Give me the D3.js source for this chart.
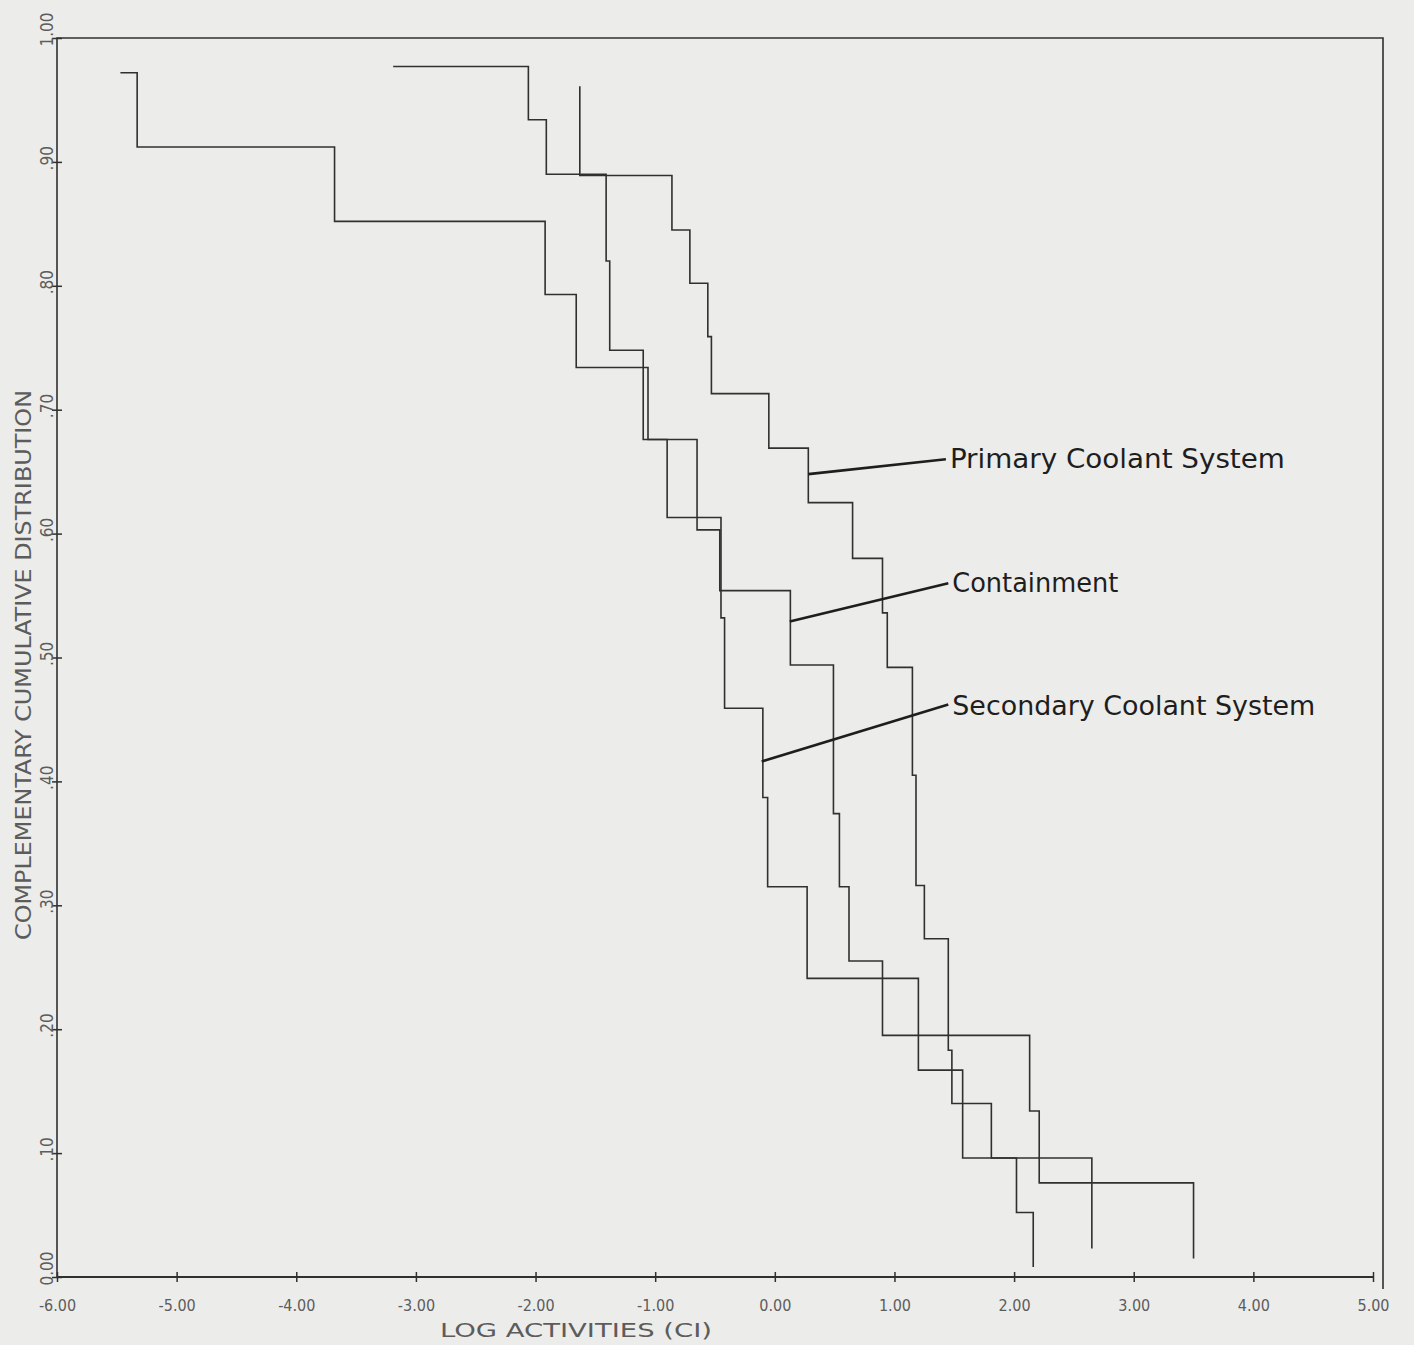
<!DOCTYPE html>
<html>
<head>
<meta charset="utf-8">
<script src="https://cdn.jsdelivr.net/npm/d3@7"></script>
<style>
  html, body { margin: 0; padding: 0; background: #ececea; }
  svg { display: block; }
  text { font-family: 'DejaVu Sans Condensed', 'DejaVu Sans', sans-serif; }
</style>
</head>
<body>
<svg id="main_chart" width="1414" height="1345"></svg>
<script>
// step points: at each x the curve drops to the matching y
const secondary_x = [-5.47, -5.33, -3.68, -1.92, -1.66, -1.06, -0.90, -0.45, -0.42, -0.10, -0.06, 0.27, 1.20, 1.57, 2.02, 2.16];
const secondary_y = [0.972, 0.912, 0.852, 0.793, 0.734, 0.676, 0.613, 0.532, 0.459, 0.387, 0.315, 0.241, 0.167, 0.096, 0.052, 0.008];

const containment_x = [-3.19, -2.06, -1.91, -1.41, -1.38, -1.10, -0.65, -0.46, 0.13, 0.49, 0.54, 0.62, 0.90, 2.13, 2.21, 3.50];
const containment_y = [0.977, 0.934, 0.890, 0.820, 0.748, 0.676, 0.603, 0.554, 0.494, 0.374, 0.315, 0.255, 0.195, 0.134, 0.076, 0.015];

const primary_x = [-1.63, -1.63, -0.86, -0.71, -0.56, -0.53, -0.05, 0.28, 0.65, 0.90, 0.94, 1.15, 1.18, 1.25, 1.45, 1.48, 1.81, 2.65];
const primary_y = [0.961, 0.889, 0.845, 0.802, 0.759, 0.713, 0.669, 0.625, 0.580, 0.536, 0.492, 0.405, 0.316, 0.273, 0.183, 0.140, 0.096, 0.023];

const x_ticks = [-6, -5, -4, -3, -2, -1, 0, 1, 2, 3, 4, 5];
const x_tick_labels = ['-6.00', '-5.00', '-4.00', '-3.00', '-2.00', '-1.00', '0.00', '1.00', '2.00', '3.00', '4.00', '5.00'];
const y_ticks = [0, 0.1, 0.2, 0.3, 0.4, 0.5, 0.6, 0.7, 0.8, 0.9, 1];
const y_tick_labels = ['0.00', '.10', '.20', '.30', '.40', '.50', '.60', '.70', '.80', '.90', '1.00'];

const series_names = ['Primary Coolant System', 'Containment', 'Secondary Coolant System'];

(function() {
  const svg = d3.select('#main_chart');
  const xScale = d3.scaleLinear().domain([-6, 5]).range([57, 1373]);
  const yScale = d3.scaleLinear().domain([0, 1]).range([1277, 38]);
  const ink = '#303030';
  const faint = '#5c5c5c';

  // frame
  svg.append('path')
    .attr('d', 'M' + xScale(-6) + ',' + yScale(0) + 'V' + yScale(1) + 'H' + (xScale(5) + 10) + 'V' + (yScale(0) + 12))
    .attr('fill', 'none').attr('stroke', ink).attr('stroke-width', 1.6);

  const x_axis = svg.append('g').attr('transform', 'translate(0,' + yScale(0) + ')')
    .call(d3.axisBottom(xScale).tickValues(x_ticks).tickSize(5).tickPadding(18).tickFormat(function(d, i) {
      return x_tick_labels[i];
    }));
  x_axis.select('.domain').attr('stroke', ink).attr('stroke-width', 1.8).attr('d', 'M' + xScale(-6) + ',0H' + xScale(5));
  x_axis.selectAll('.tick line').attr('y1', -5).attr('y2', 5).attr('stroke', ink).attr('stroke-width', 1.5);
  x_axis.selectAll('.tick text').attr('fill', faint).style('font-size', '16px').style('font-family', "'DejaVu Sans Condensed', sans-serif");

  const y_axis = svg.append('g').attr('transform', 'translate(' + xScale(-6) + ',0)')
    .call(d3.axisLeft(yScale).tickValues(y_ticks).tickSize(5).tickFormat(function(d, i) {
      return y_tick_labels[i];
    }));
  y_axis.select('.domain').remove();
  y_axis.selectAll('.tick line').attr('x1', -5).attr('x2', 5).attr('stroke', ink).attr('stroke-width', 1.5);
  y_axis.selectAll('.tick text')
    .attr('x', 0).attr('dy', null).attr('text-anchor', 'start')
    .attr('transform', 'translate(-4,8) rotate(-90)')
    .attr('fill', faint).style('font-size', '17px');

  svg.append('text').text('LOG ACTIVITIES (CI)')
    .attr('x', 576).attr('y', 1337).attr('text-anchor', 'middle')
    .attr('textLength', 272).attr('lengthAdjust', 'spacingAndGlyphs')
    .attr('fill', faint).style('font-size', '20px');

  svg.append('text').text('COMPLEMENTARY CUMULATIVE DISTRIBUTION')
    .attr('transform', 'translate(31,665) rotate(-90)').attr('text-anchor', 'middle')
    .attr('textLength', 550).attr('lengthAdjust', 'spacingAndGlyphs')
    .attr('fill', faint).style('font-size', '21px');

  // step curves
  const curves = [
    { name: series_names[0], xs: primary_x, ys: primary_y },
    { name: series_names[1], xs: containment_x, ys: containment_y },
    { name: series_names[2], xs: secondary_x, ys: secondary_y }
  ];
  const step = d3.line().curve(d3.curveStepAfter)
    .x(function(d) { return xScale(d[0]); })
    .y(function(d) { return yScale(d[1]); });
  svg.append('g').attr('id', 'curve_area').selectAll('path').data(curves).enter().append('path')
    .attr('d', function(c) {
      return step(c.xs.map(function(v, i) { return [v, c.ys[i]]; }));
    })
    .attr('fill', 'none').attr('stroke', ink).attr('stroke-width', 1.6);

  // leader lines and labels
  const notes = [
    { from: [0.28, 0.648], to: [1.43, 0.660], dy: 9 },
    { from: [0.125, 0.529], to: [1.45, 0.560], dy: 9 },
    { from: [-0.11, 0.416], to: [1.45, 0.462], dy: 10 }
  ];
  const label_widths = [335, 166, 363];
  const note_area = svg.append('g').attr('id', 'note_area');
  note_area.selectAll('line').data(notes).enter().append('line')
    .attr('x1', function(d) { return xScale(d.from[0]); })
    .attr('y1', function(d) { return yScale(d.from[1]); })
    .attr('x2', function(d) { return xScale(d.to[0]); })
    .attr('y2', function(d) { return yScale(d.to[1]); })
    .attr('stroke', '#1e1e1e').attr('stroke-width', 2.6);
  note_area.selectAll('text').data(notes).enter().append('text')
    .text(function(d, i) { return series_names[i]; })
    .attr('x', function(d) { return xScale(d.to[0]) + 4; })
    .attr('y', function(d) { return yScale(d.to[1]) + d.dy; })
    .attr('textLength', function(d, i) { return label_widths[i]; })
    .attr('lengthAdjust', 'spacingAndGlyphs')
    .attr('fill', '#1e1e1e').style('font-size', '26px');
}());
</script>
</body>
</html>
